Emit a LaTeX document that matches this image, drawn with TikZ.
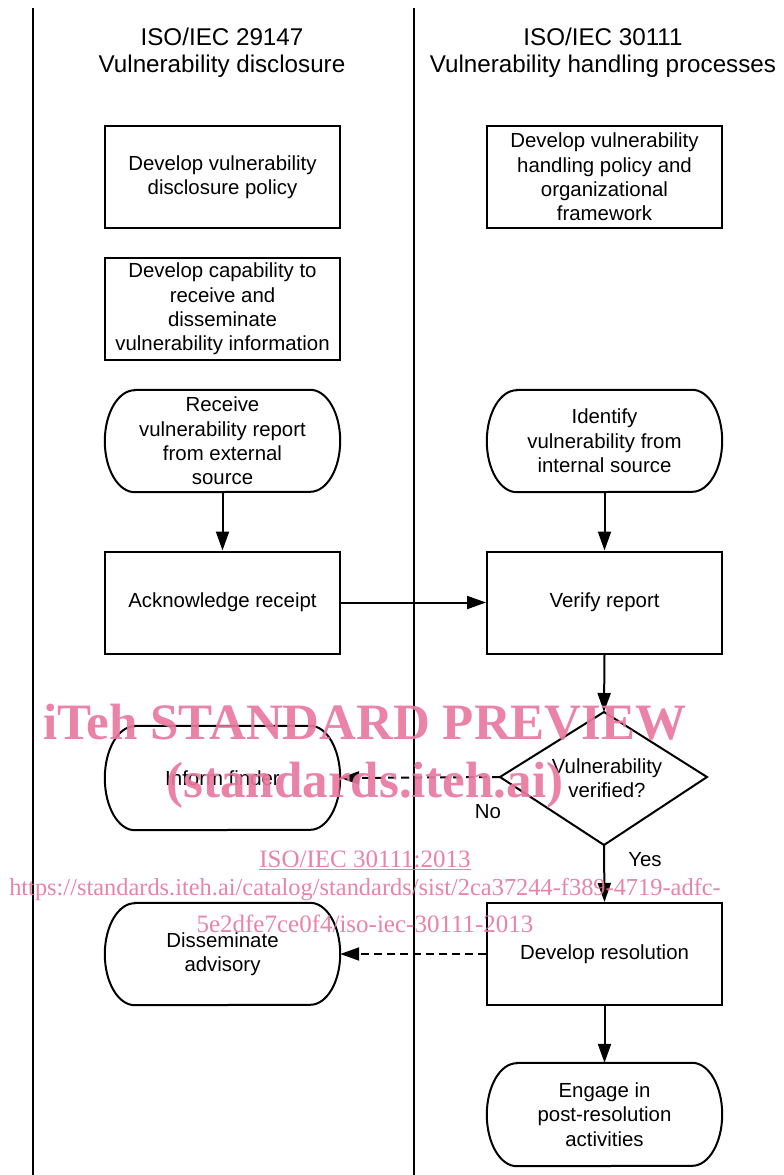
\documentclass[tikz,border=0pt]{standalone}
\usepackage{fontspec}
\setmainfont{Liberation Sans}
\newfontfamily\wmfont{Liberation Serif}
\usetikzlibrary{arrows.meta,shapes.geometric}
\definecolor{wmpink}{RGB}{232,120,158}
\newcommand\stadiumoutline[2]{%
  \draw[shape line] ([xshift=30pt]#1.north west) -- ([xshift=-30pt]#1.north east)
    arc[start angle=90,end angle=-90,x radius=30pt,y radius=#2]
    -- ([xshift=30pt]#1.south west)
    arc[start angle=270,end angle=90,x radius=30pt,y radius=#2] -- cycle;}
\begin{document}
\begin{tikzpicture}[x=1pt,y=-1pt,
  shape line/.style={line width=2pt,black},
  body/.style={font=\fontsize{20.4}{24.3}\selectfont,align=center,inner sep=0pt},
  stepbox/.style={body,draw,line width=2pt,minimum width=235pt,minimum height=102pt},
  stadiumbox/.style={body,minimum width=235pt,minimum height=102pt},
  title/.style={font=\fontsize{24.2}{27}\selectfont,align=center,inner sep=0pt},
  flow/.style={line width=2pt,-{Triangle[length=19pt,width=13pt]}},
  dflow/.style={flow,dash pattern=on 8pt off 5pt},
  lbl/.style={font=\fontsize{20.4}{24.3}\selectfont,inner sep=0pt},
  wm/.style={text=wmpink,inner sep=0pt,opacity=0.92}
]
\useasboundingbox (0,0) rectangle (784,1175);
% lane lines
\coordinate (l1top) at (33,8); \coordinate (l1bot) at (33,1175);
\coordinate (l2top) at (414,8); \coordinate (l2bot) at (414,1175);
\draw[line width=2pt] (l1top) -- (l1bot);
\draw[line width=2pt] (l2top) -- (l2bot);
% titles
\node[title] (t1) at (222,53) {ISO/IEC 29147\\Vulnerability disclosure};
\node[title] (t2) at (603,53) {ISO/IEC 30111\\Vulnerability handling processes};
% left column
\node[stepbox] (policy) at (222.5,177) {Develop vulnerability\\disclosure policy};
\node[stepbox] (capab) at (222.5,309) {Develop capability to\\receive and\\disseminate\\vulnerability information};
\node[stadiumbox] (receive) at (222.5,441) {Receive\\vulnerability report\\from external\\source};
\stadiumoutline{receive}{51pt}
\node[stepbox] (ack) at (222.5,602.5) {Acknowledge receipt};
\node[stadiumbox,minimum height=104pt] (inform) at (222.5,778) {Inform finder};
\stadiumoutline{inform}{52pt}
\node[stadiumbox] (dissem) at (222.5,954) {Disseminate\\advisory};
\stadiumoutline{dissem}{51pt}
% right column
\node[stepbox] (hpolicy) at (604.5,177) {Develop vulnerability\\handling policy and\\organizational\\framework};
\node[stadiumbox] (identify) at (604.5,441) {Identify\\vulnerability from\\internal source};
\stadiumoutline{identify}{51pt}
\node[stepbox] (verify) at (604.5,602.5) {Verify report};
\coordinate (dtop) at (604,712);
\coordinate (dleft) at (500,777);
\coordinate (dright) at (707,777);
\coordinate (dbot) at (604,845);
\draw[shape line,line join=miter] (dtop) -- (dright) -- (dbot) -- (dleft) -- cycle;
\node[body] (dtext) at (607,778.5) {Vulnerability\\verified?};
\node[stepbox] (resol) at (604.5,954) {Develop resolution};
\node[stadiumbox,minimum height=103pt] (engage) at (604.5,1114.5) {Engage in\\post-resolution\\activities};
\stadiumoutline{engage}{51.5pt}
% connectors
\draw[flow] (receive.south) -- (ack.north);
\draw[flow] (ack.east) -- (verify.west);
\draw[flow] (identify.south) -- (verify.north);
\draw[flow] (verify.south) -- (dtop);
\draw[dflow] (dleft) -- (inform.east);
\draw[flow] (dbot) -- (resol.north);
\draw[dflow] (resol.west) -- (dissem.east);
\draw[flow] (resol.south) -- (engage.north);
\node[lbl] (no) at (488,812) {No};
\node[lbl] (yes) at (645,860) {Yes};
% watermark
\node[wm,font=\wmfont\bfseries\fontsize{51}{51}\selectfont] (wm1) at (365,722) {iTeh STANDARD PREVIEW};
\node[wm,font=\wmfont\bfseries\fontsize{51}{51}\selectfont] (wm2) at (365,785) {(standards.iteh.ai)};
\node[wm,font=\wmfont\fontsize{25}{25}\selectfont] (wm3) at (365,860) {\underline{ISO/IEC 30111:2013}};
\node[wm,font=\wmfont\fontsize{24.4}{25}\selectfont] (wm4) at (365,890) {https://standards.iteh.ai/catalog/standards/sist/2ca37244-f389-4719-adfc-};
\node[wm,font=\wmfont\fontsize{25}{25}\selectfont] (wm5) at (365,924) {5e2dfe7ce0f4/iso-iec-30111-2013};
\end{tikzpicture}
\end{document}
